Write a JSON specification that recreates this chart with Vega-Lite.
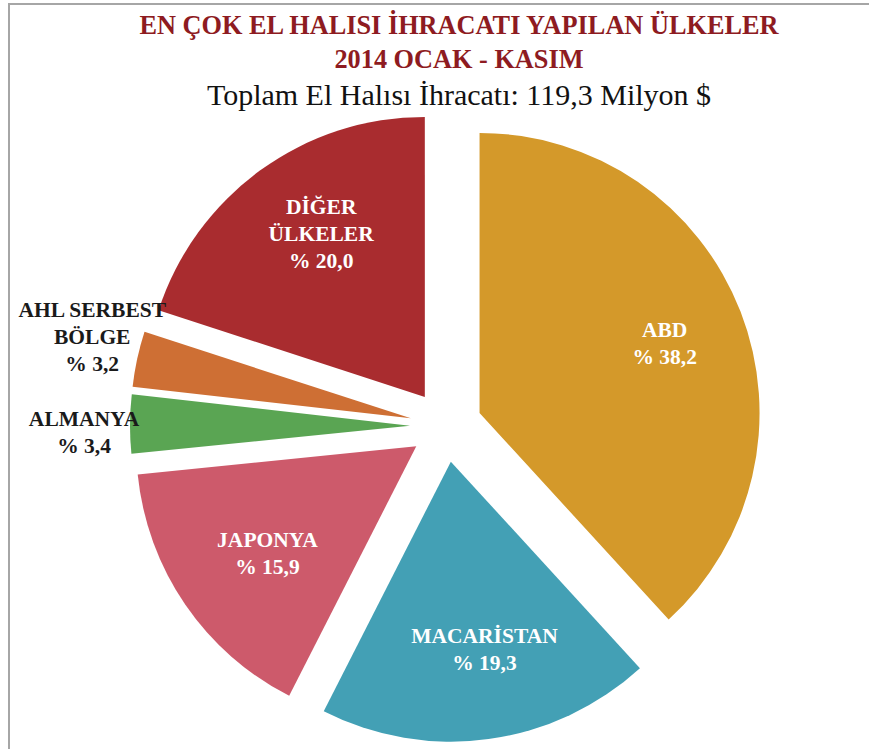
{
  "$schema": "https://vega.github.io/schema/vega-lite/v6.json",
  "autosize": {"type": "none"},
  "padding": {"left": 9, "top": 4, "right": 0, "bottom": 0},
  "width": 874,
  "height": 844,
  "background": "white",
  "config": {"view": {"stroke": null}},
  "title": {
    "text": ["EN ÇOK EL HALISI İHRACATI YAPILAN ÜLKELER", "2014 OCAK - KASIM"],
    "subtitle": "Toplam El Halısı İhracatı: 119,3 Milyon $",
    "font": "Liberation Serif",
    "fontSize": 26.3,
    "fontWeight": "bold",
    "color": "#8E1B21",
    "lineHeight": 34,
    "subtitleFont": "Liberation Serif",
    "subtitleFontSize": 30,
    "subtitleFontWeight": "normal",
    "subtitleColor": "#111111",
    "subtitlePadding": 8,
    "anchor": "middle",
    "offset": -108,
    "dx": 13
  },
  "datasets": {
    "slices": [
      {"country": "ABD", "pct": 38.2, "order": 1, "label": ["ABD", "% 38,2"]},
      {"country": "MACARİSTAN", "pct": 19.3, "order": 2, "label": ["MACARİSTAN", "% 19,3"]},
      {"country": "JAPONYA", "pct": 15.9, "order": 3, "label": ["JAPONYA", "% 15,9"]},
      {"country": "ALMANYA", "pct": 3.4, "order": 4, "label": ["ALMANYA", "% 3,4"]},
      {"country": "AHL SERBEST BÖLGE", "pct": 3.2, "order": 5, "label": ["AHL SERBEST", "BÖLGE", "% 3,2"]},
      {"country": "DİĞER ÜLKELER", "pct": 20.0, "order": 6, "label": ["DİĞER", "ÜLKELER", "% 20,0"]}
    ],
    "frame": [{"frame": "border"}]
  },
  "layer": [
    {
      "data": {"name": "frame"},
      "mark": {"type": "rect", "fill": null, "stroke": "#a6a6a6", "strokeWidth": 2},
      "encoding": {}
    },
    {
      "data": {"name": "slices"},
      "mark": {"type": "arc", "outerRadius": 280},
      "encoding": {
        "theta": {"field": "pct", "type": "quantitative", "stack": true},
        "order": {"field": "order", "type": "quantitative"},
        "color": {
          "field": "country",
          "type": "nominal",
          "legend": null,
          "scale": {
            "domain": ["ABD", "MACARİSTAN", "JAPONYA", "ALMANYA", "AHL SERBEST BÖLGE", "DİĞER ÜLKELER"],
            "range": ["#D4992A", "#43A0B5", "#CD5A6B", "#5AA553", "#CE6F34", "#A92C2F"]
          }
        },
        "xOffset": {"value": {"expr": "36*sin(PI*(datum.pct_start+datum.pct_end)/100)"}},
        "yOffset": {"value": {"expr": "-36*cos(PI*(datum.pct_start+datum.pct_end)/100)"}}
      }
    },
    {
      "data": {"name": "slices"},
      "mark": {"type": "text", "radius": 226, "dx": 8, "dy": {"expr": "length(datum.label) == 3 ? -35 : -13"}, "font": "Liberation Serif", "fontWeight": "bold", "fontSize": 21.5, "lineHeight": 27, "color": "white"},
      "encoding": {
        "theta": {"field": "pct", "type": "quantitative", "stack": true},
        "order": {"field": "order", "type": "quantitative"},
        "text": {"condition": {"test": "datum.pct > 5", "field": "label"}, "value": ""}
      }
    },
    {
      "data": {"name": "slices"},
      "mark": {"type": "text", "radius": 362, "dy": {"expr": "length(datum.label) == 3 ? -38 : -4"}, "font": "Liberation Serif", "fontWeight": "bold", "fontSize": 21.5, "lineHeight": 27, "color": "#1a1a1a"},
      "encoding": {
        "theta": {"field": "pct", "type": "quantitative", "stack": true},
        "order": {"field": "order", "type": "quantitative"},
        "text": {"condition": {"test": "datum.pct < 5", "field": "label"}, "value": ""}
      }
    }
  ]
}
